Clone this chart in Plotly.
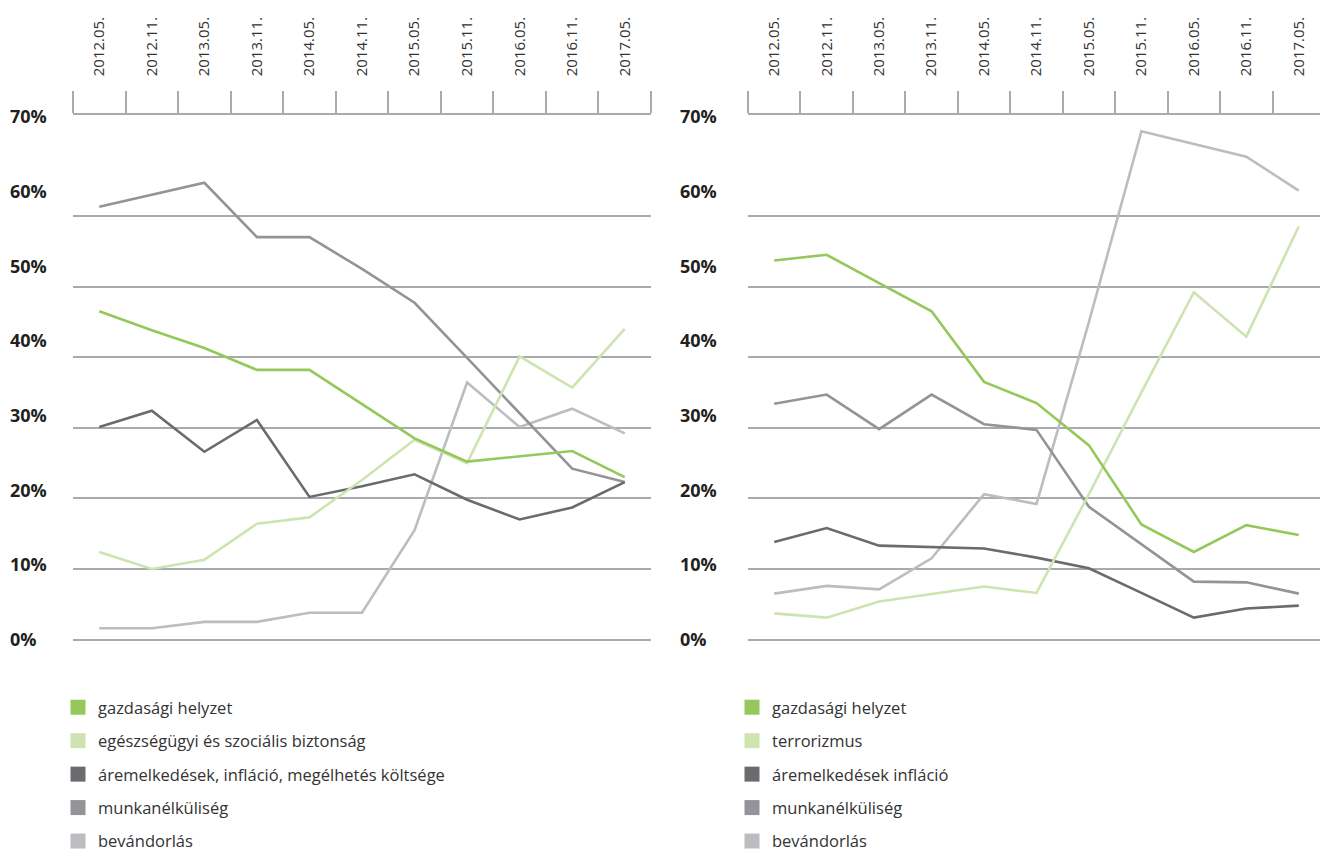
import plotly.graph_objects as go

# Survey rounds (x categories)
PERIODS = [
    "2012.05.", "2012.11.", "2013.05.", "2013.11.", "2014.05.", "2014.11.",
    "2015.05.", "2015.11.", "2016.05.", "2016.11.", "2017.05.",
]

# Left panel: national issues (%)
L_GAZDASAGI = [46.5, 43.8, 41.3, 38.2, 38.2, 33.4, 28.5, 25.2, 25.9, 26.7, 23.0]
L_EGESZSEG = [12.4, 10.0, 11.3, 16.4, 17.3, 22.6, 28.3, 25.0, 40.1, 35.7, 44.0]
L_AREMELKEDES = [30.1, 32.4, 26.6, 31.1, 20.2, 21.7, 23.4, 19.8, 17.0, 18.7, 22.3]
L_MUNKANELKULI = [61.3, 63.0, 64.7, 57.0, 57.0, 52.5, 47.7, 39.9, 32.1, 24.2, 22.3]
L_BEVANDORLAS = [1.6, 1.6, 2.5, 2.5, 3.8, 3.8, 15.5, 36.4, 30.1, 32.7, 29.2]

# Right panel: EU-level issues (%)
R_GAZDASAGI = [53.7, 54.5, 50.5, 46.5, 36.5, 33.5, 27.5, 16.3, 12.4, 16.2, 14.8]
R_TERRORIZMUS = [3.7, 3.1, 5.4, 6.5, 7.5, 6.6, 20.6, 35.0, 49.2, 42.9, 58.5]
R_AREMELKEDES = [13.8, 15.8, 13.3, 13.1, 12.9, 11.6, 10.1, 6.6, 3.1, 4.4, 4.8]
R_MUNKANELKULI = [33.4, 34.7, 29.8, 34.7, 30.5, 29.7, 18.8, 13.5, 8.2, 8.1, 6.5]
R_BEVANDORLAS = [6.5, 7.6, 7.1, 11.5, 20.6, 19.2, 45.0, 72.0, 70.2, 68.4, 63.6]

LEFT_LABELS = [
    "gazdasági helyzet",
    "egészségügyi és szociális biztonság",
    "áremelkedések, infláció, megélhetés költsége",
    "munkanélküliség",
    "bevándorlás",
]
RIGHT_LABELS = [
    "gazdasági helyzet",
    "terrorizmus",
    "áremelkedések infláció",
    "munkanélküliség",
    "bevándorlás",
]

GRID_VALS = [0, 10, 20, 30, 40, 50, 60]
PCT_VALS = [0, 10, 20, 30, 40, 50, 60, 70]
PCT_TEXT = [f"{v}%" for v in PCT_VALS]

COLORS = ["#95c85a", "#cde4b0", "#6a6b6f", "#939498", "#bcbdc1"]
GRID_COLOR = "#a9aaae"
FONT = "Open Sans"

# page body adds an 8px margin, so the figure is sized to fit the window
OFF = 8
W, H = 1328 - OFF, 851 - OFF


def fx(screen_x):
    """screen x pixel -> paper fraction"""
    return (screen_x - OFF) / W


fig = go.Figure()

left_series = [L_GAZDASAGI, L_EGESZSEG, L_AREMELKEDES, L_MUNKANELKULI, L_BEVANDORLAS]
right_series = [R_GAZDASAGI, R_TERRORIZMUS, R_AREMELKEDES, R_MUNKANELKULI, R_BEVANDORLAS]

# lines, drawn back-to-front
for axis_x, axis_y, series in (("x", "y", left_series), ("x2", "y2", right_series)):
    for vals, col in zip(series[::-1], COLORS[::-1]):
        fig.add_trace(go.Scatter(
            x=PERIODS, y=vals, mode="lines",
            line=dict(color=col, width=2.6),
            xaxis=axis_x, yaxis=axis_y, showlegend=False, hoverinfo="skip",
        ))

# legend entries as square swatches (also keep the label axes alive)
for legend_id, labels, ax_x, ax_y in (
    ("legend", LEFT_LABELS, "x", "y3"),
    ("legend2", RIGHT_LABELS, "x2", "y4"),
):
    for i, (name, col) in enumerate(zip(labels, COLORS)):
        fig.add_trace(go.Scatter(
            x=[None], y=[None], mode="markers", name=name,
            marker=dict(symbol="square", size=15, color=col),
            legend=legend_id, legendgroup=f"{legend_id}_{i}",
            xaxis=ax_x, yaxis=ax_y, hoverinfo="skip",
        ))

# data axes: 0% at y=639.5px, 70.6px per 10%
y_data_range = [-2.9, 74.3]
# label axes: labels spread a bit wider than the grid
y_label_range = [-2.75, 70.27]

xaxis_common = dict(
    type="category", side="top", range=[-0.5, 10.5], automargin=False,
    tickson="boundaries", ticks="outside", ticklen=22, tickwidth=1.5,
    tickcolor=GRID_COLOR, showline=True, linecolor=GRID_COLOR, linewidth=1.5,
    showgrid=False, zeroline=False, tickangle=-90, ticklabelstandoff=34,
    tickfont=dict(family=FONT, size=15, color="#333333"),
    fixedrange=True,
)
ydata_common = dict(
    range=y_data_range, tickvals=GRID_VALS, showticklabels=False, ticks="",
    showgrid=True, gridcolor=GRID_COLOR, gridwidth=1.5, zeroline=False,
    showline=False, fixedrange=True, automargin=False,
)
ylabel_common = dict(
    range=y_label_range, tickvals=PCT_VALS, ticktext=PCT_TEXT,
    anchor="free", ticklabelposition="inside", ticklabeloverflow="allow",
    showgrid=False, zeroline=False, showline=False, ticks="",
    tickfont=dict(family=FONT, size=18, color="#231f20", weight="bold"),
    fixedrange=True, automargin=False,
)

legend_common = dict(
    yref="container", y=1 - (690 - OFF) / H, xanchor="left", yanchor="top",
    font=dict(family=FONT, size=16.5, color="#333333"),
    tracegroupgap=9, bgcolor="rgba(0,0,0,0)",
)

fig.update_layout(
    width=W, height=H,
    margin=dict(l=0, r=0, t=115 - OFF, b=H - (660 - OFF)),
    paper_bgcolor="white", plot_bgcolor="white",
    font=dict(family=FONT, color="#333333"),
    xaxis=dict(domain=[fx(73), fx(651)], anchor="y", **xaxis_common),
    xaxis2=dict(domain=[fx(748), fx(1325)], anchor="y2", **xaxis_common),
    yaxis=dict(anchor="x", **ydata_common),
    yaxis2=dict(anchor="x2", **ydata_common),
    yaxis3=dict(overlaying="y", position=fx(OFF), ticklabelstandoff=-2, **ylabel_common),
    yaxis4=dict(overlaying="y2", position=fx(676), **ylabel_common),
    legend=dict(x=fx(58), **legend_common),
    legend2=dict(x=fx(732), **legend_common),
)

fig.write_html("out.html")
